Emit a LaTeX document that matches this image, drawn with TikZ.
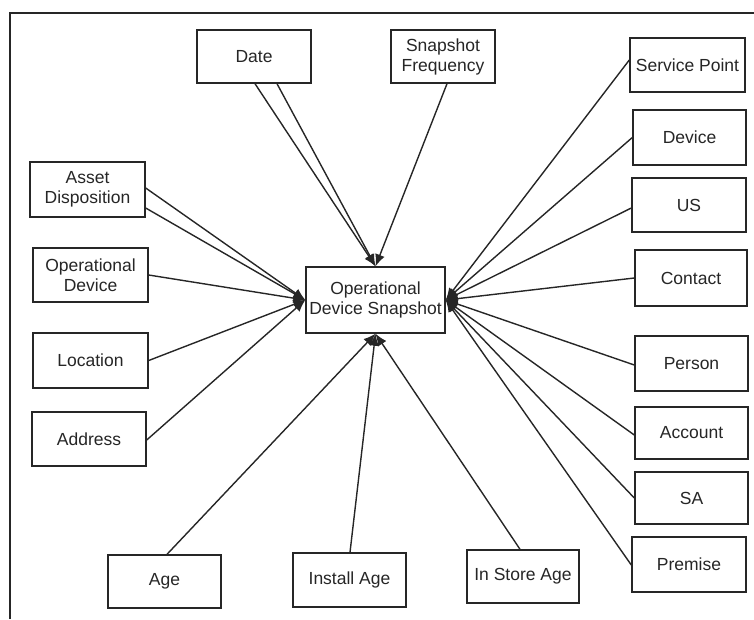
\documentclass[tikz,border=0pt]{standalone}
\usepackage{fontspec}
\setmainfont{Liberation Sans}
\usetikzlibrary{arrows.meta,calc}
\definecolor{ink}{HTML}{262626}
\begin{document}
\begin{tikzpicture}[x=1pt,y=-1pt,
  box/.style={draw=ink,line width=1.4pt,fill=white,text=ink,align=center,inner sep=0pt,
    font=\fontsize{17.5}{20}\selectfont},
  conn/.style={draw=ink,line width=1.4pt,-{Latex[length=12pt,width=10pt]}}]
\useasboundingbox (0,0) rectangle (754,619);
\draw[ink,line width=1.3pt] (10,619) -- (10,13) -- (754,13);
% nodes
\node[box,minimum width=139pt,minimum height=66pt] (ctr) at (375.5,300) {Operational\\Device Snapshot};
\node[box,minimum width=114pt,minimum height=53pt] (date) at (254,56.5) {Date};
\node[box,minimum width=104pt,minimum height=53pt] (snap) at (443,56.5) {Snapshot\\Frequency};
\node[box,minimum width=115pt,minimum height=55pt] (asset) at (87.5,189.5) {Asset\\Disposition};
\node[box,minimum width=115pt,minimum height=54pt] (opdev) at (90.5,275) {Operational\\Device};
\node[box,minimum width=115pt,minimum height=55pt] (loc) at (90.5,360.5) {Location};
\node[box,minimum width=114pt,minimum height=54pt] (addr) at (89,439) {Address};
\node[box,minimum width=115pt,minimum height=54pt] (sp) at (687.5,65) {Service Point};
\node[box,minimum width=113pt,minimum height=55pt] (dev) at (689.5,137.5) {Device};
\node[box,minimum width=114pt,minimum height=54pt] (us) at (689,205) {US};
\node[box,minimum width=112pt,minimum height=56pt] (contact) at (691,278) {Contact};
\node[box,minimum width=113pt,minimum height=55pt] (person) at (691.5,363.5) {Person};
\node[box,minimum width=113pt,minimum height=52pt] (account) at (691.5,433) {Account};
\node[box,minimum width=113pt,minimum height=52pt] (sa) at (691.5,498) {SA};
\node[box,minimum width=114pt,minimum height=55pt] (premise) at (689,564.5) {Premise};
\node[box,minimum width=113pt,minimum height=53pt] (age) at (164.5,581.5) {Age};
\node[box,minimum width=113pt,minimum height=54pt] (install) at (349.5,580) {Install Age};
\node[box,minimum width=112pt,minimum height=53pt] (instore) at (523,576.5) {In Store Age};
% connectors to top
\draw[conn] ($(date.south)+(1,0)$) -- (ctr.north);
\draw[conn] ($(date.south)+(23,0)$) -- (ctr.north);
\draw[conn] ($(snap.south)+(4,0)$) -- (ctr.north);
% to left
\draw[conn] ($(asset.east)+(0,-1.5)$) -- (ctr.west);
\draw[conn] ($(asset.east)+(0,18.5)$) -- (ctr.west);
\draw[conn] (opdev.east) -- (ctr.west);
\draw[conn] (loc.east) -- (ctr.west);
\draw[conn] ($(addr.east)+(0,1)$) -- (ctr.west);
% to bottom
\draw[conn] ($(age.north)+(2.5,0)$) -- (ctr.south);
\draw[conn] ($(install.north)+(0.5,0)$) -- (ctr.south);
\draw[conn] ($(instore.north)+(-3,0)$) -- (ctr.south);
% to right
\draw[conn] ($(sp.west)+(0,-5)$) -- (ctr.east);
\draw[conn] (dev.west) -- (ctr.east);
\draw[conn] ($(us.west)+(0,3)$) -- (ctr.east);
\draw[conn] (contact.west) -- (ctr.east);
\draw[conn] ($(person.west)+(0,1.5)$) -- (ctr.east);
\draw[conn] ($(account.west)+(0,2)$) -- (ctr.east);
\draw[conn] (sa.west) -- (ctr.east);
\draw[conn] ($(premise.west)+(0,0.5)$) -- (ctr.east);
\end{tikzpicture}
\end{document}
